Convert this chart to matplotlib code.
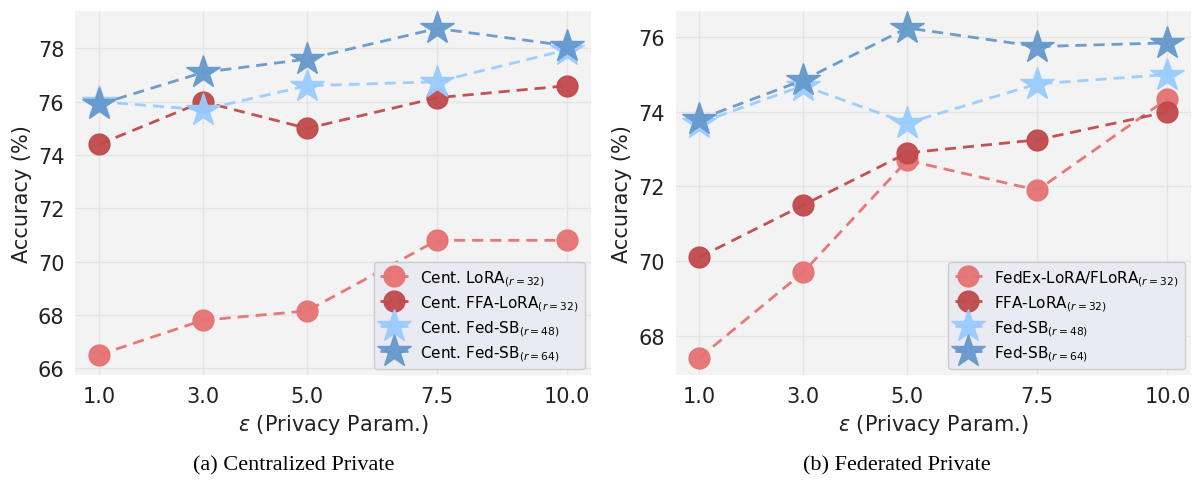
import matplotlib
matplotlib.use("Agg")
import matplotlib.pyplot as plt

# x values (privacy parameter epsilon)
eps = [1.0, 3.0, 5.0, 7.5, 10.0]

# (a) centralized private
cent_lora = [66.5, 67.8, 68.15, 70.8, 70.8]
cent_ffa = [74.4, 76.0, 75.0, 76.15, 76.6]
cent_sb48 = [76.0, 75.7, 76.6, 76.75, 77.95]
cent_sb64 = [75.9, 77.1, 77.6, 78.75, 78.1]

# (b) federated private
fed_lora = [67.4, 69.7, 72.7, 71.9, 74.35]
fed_ffa = [70.1, 71.5, 72.9, 73.25, 74.0]
fed_sb48 = [73.7, 74.7, 73.7, 74.75, 75.0]
fed_sb64 = [73.8, 74.85, 76.25, 75.75, 75.85]

labels_a = [r"Cent. LoRA$_{(r=32)}$", r"Cent. FFA-LoRA$_{(r=32)}$",
            r"Cent. Fed-SB$_{(r=48)}$", r"Cent. Fed-SB$_{(r=64)}$"]
labels_b = [r"FedEx-LoRA/FLoRA$_{(r=32)}$", r"FFA-LoRA$_{(r=32)}$",
            r"Fed-SB$_{(r=48)}$", r"Fed-SB$_{(r=64)}$"]

colors = ["#e57373", "#c0494b", "#99ccff", "#6699cc"]
markers = ["o", "o", "*", "*"]
msizes = [15, 15, 25, 25]

fig = plt.figure(figsize=(11.98, 4.85), dpi=100)
ax1 = fig.add_axes([0.063, 0.225, 0.430, 0.75])
ax2 = fig.add_axes([0.564, 0.225, 0.430, 0.75])


def draw(ax, series, labels, ylim, yticks):
    ax.set_facecolor("#f3f3f3")
    for s in ["top", "right", "bottom", "left"]:
        ax.spines[s].set_visible(False)
    ax.grid(True, color="#e4e4e4", linewidth=1.0)
    ax.set_axisbelow(True)
    for ys, lab, c, m, ms in zip(series, labels, colors, markers, msizes):
        ax.plot(eps, ys, linestyle="--", color=c, marker=m, markersize=ms,
                linewidth=2, label=lab, alpha=0.95, dashes=(4, 2.5))
    ax.set_xticks(eps)
    ax.set_xticklabels(["1.0", "3.0", "5.0", "7.5", "10.0"])
    ax.set_yticks(yticks)
    ax.set_ylim(*ylim)
    ax.set_xlim(0.55, 10.45)
    ax.tick_params(labelsize=15, length=0, colors="#222222", pad=8)
    ax.set_xlabel(r"$\varepsilon$ (Privacy Param.)", fontsize=15, color="#222222")
    ax.set_ylabel("Accuracy (%)", fontsize=15, color="#222222")
    leg = ax.legend(loc="lower right", fontsize=11, facecolor="#eaeaf2",
                    edgecolor="#cccccc", framealpha=1.0, handlelength=1.8,
                    borderpad=0.4, labelspacing=0.35, borderaxespad=0.4)
    leg.get_frame().set_linewidth(1.0)


draw(ax1, [cent_lora, cent_ffa, cent_sb48, cent_sb64], labels_a,
     (65.75, 79.4), [66, 68, 70, 72, 74, 76, 78])
draw(ax2, [fed_lora, fed_ffa, fed_sb48, fed_sb64], labels_b,
     (66.95, 76.7), [68, 70, 72, 74, 76])

fig.text(0.245, 0.03, "(a) Centralized Private", ha="center", fontsize=16,
         family="Liberation Serif")
fig.text(0.749, 0.03, "(b) Federated Private", ha="center", fontsize=16,
         family="Liberation Serif")

fig.savefig("out.png", dpi=100)
